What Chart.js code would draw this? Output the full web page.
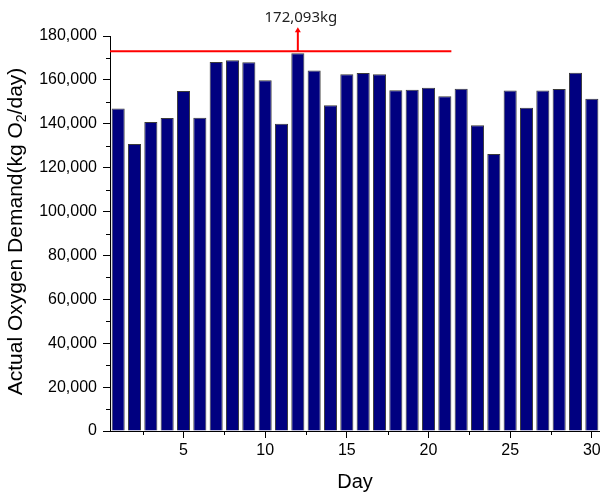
<!DOCTYPE html>
<html>
<head>
<meta charset="utf-8">
<script src="https://cdn.jsdelivr.net/npm/chart.js@4/dist/chart.umd.min.js"></script>
<style>
  html, body { margin: 0; padding: 0; background: #fff; overflow: hidden; }
  #wrap { width: 600px; height: 495px; }
</style>
</head>
<body>
<div id="wrap"><canvas id="chart" width="600" height="495"></canvas></div>
<script>
// Daily actual oxygen demand (kg O2/day)
const days = [1, 2, 3, 4, 5, 6, 7, 8, 9, 10, 11, 12, 13, 14, 15,
              16, 17, 18, 19, 20, 21, 22, 23, 24, 25, 26, 27, 28, 29, 30];
const demand = [147000, 130800, 140800, 142600, 154900, 142800, 168100, 169000, 168000, 159800,
                140000, 172093, 164300, 148500, 162600, 163100, 162600, 155300, 155500, 156400,
                152600, 156000, 139300, 126200, 155200, 147300, 155200, 155800, 163300, 151400];

// Peak marker: horizontal red line, arrow over the peak day and its label
const peakLineX = [0.5, 21.4];
const peakLineY = 173000;
const peakDay = 12;
const peakArrowTop = 184000;
const peakLabel = '172,093kg';

// Axes
const xRange = [0.5, 30.5];
const xMajorTicks = [5, 10, 15, 20, 25, 30];
const xMinorTicks = [2.5, 7.5, 12.5, 17.5, 22.5, 27.5];
const yRange = [0, 180000];
const yMajorTicks = [0, 20000, 40000, 60000, 80000, 100000, 120000, 140000, 160000, 180000];
const yMinorTicks = [10000, 30000, 50000, 70000, 90000, 110000, 130000, 150000, 170000];

const sansFamily = "'Liberation Sans', Arial, Helvetica, sans-serif";
const tickFont = { family: sansFamily, size: 16 };

// Minor tick marks (Chart.js has no minor ticks)
const minorTicks = {
  id: 'minorTicks',
  afterDraw(chart) {
    const { ctx, scales: { x, y }, chartArea } = chart;
    ctx.save();
    ctx.strokeStyle = '#000';
    ctx.lineWidth = 1;
    ctx.beginPath();
    xMinorTicks.forEach(v => {
      const px = Math.round(x.getPixelForValue(v)) + 0.5;
      ctx.moveTo(px, chartArea.bottom);
      ctx.lineTo(px, chartArea.bottom + 4);
    });
    yMinorTicks.forEach(v => {
      const py = Math.round(y.getPixelForValue(v)) + 0.5;
      ctx.moveTo(chartArea.left, py);
      ctx.lineTo(chartArea.left - 4, py);
    });
    ctx.stroke();
    ctx.restore();
  }
};

// Arrow and label over the peak bar
const peakArrow = {
  id: 'peakArrow',
  afterDatasetsDraw(chart) {
    const { ctx, scales: { x, y } } = chart;
    const px = x.getPixelForValue(peakDay);
    const yBase = y.getPixelForValue(peakLineY);
    const yTip = y.getPixelForValue(peakArrowTop);
    ctx.save();
    ctx.strokeStyle = '#ff0000';
    ctx.fillStyle = '#ff0000';
    ctx.lineWidth = 2;
    ctx.beginPath();
    ctx.moveTo(px, yBase);
    ctx.lineTo(px, yTip + 4);
    ctx.stroke();
    ctx.beginPath();
    ctx.moveTo(px, yTip);
    ctx.lineTo(px - 3, yTip + 5);
    ctx.lineTo(px + 3, yTip + 5);
    ctx.closePath();
    ctx.fill();
    ctx.fillStyle = '#222';
    ctx.font = "15px 'Noto Sans', sans-serif";
    ctx.textAlign = 'center';
    ctx.textBaseline = 'alphabetic';
    ctx.fillText(peakLabel, px + 3, yTip - 5);
    ctx.restore();
  }
};

// Y title with subscript 2
const yTitle = {
  id: 'yTitle',
  afterDraw(chart) {
    const { ctx, chartArea } = chart;
    const parts = [
      { t: 'Actual Oxygen Demand(kg O', size: 21, dy: 0 },
      { t: '2', size: 14, dy: 4 },
      { t: '/day)', size: 21, dy: 0 }
    ];
    ctx.save();
    ctx.fillStyle = '#000';
    ctx.textBaseline = 'alphabetic';
    ctx.textAlign = 'left';
    let total = 0;
    parts.forEach(p => {
      ctx.font = p.size + 'px ' + sansFamily;
      p.w = ctx.measureText(p.t).width;
      total += p.w;
    });
    ctx.translate(22, (chartArea.top + chartArea.bottom) / 2 - 2);
    ctx.rotate(-Math.PI / 2);
    let cx = -total / 2;
    parts.forEach(p => {
      ctx.font = p.size + 'px ' + sansFamily;
      ctx.fillText(p.t, cx, p.dy);
      cx += p.w;
    });
    ctx.restore();
  }
};

new Chart(document.getElementById('chart'), {
  type: 'bar',
  data: {
    datasets: [
      {
        type: 'line',
        data: peakLineX.map(v => ({ x: v, y: peakLineY })),
        borderColor: '#ff0000',
        borderWidth: 2,
        pointRadius: 0,
        fill: false,
      },
      {
        type: 'bar',
        data: days.map((d, i) => ({ x: d, y: demand[i] })),
        backgroundColor: '#000080',
        borderColor: '#3a3a3a',
        borderWidth: 1,
        barPercentage: 0.8,
        categoryPercentage: 1.0,
      }
    ]
  },
  options: {
    responsive: false,
    animation: false,
    layout: { padding: { top: 36, left: 0, right: 0, bottom: 0 } },
    plugins: {
      legend: { display: false },
      tooltip: { enabled: false },
    },
    scales: {
      x: {
        type: 'linear',
        min: xRange[0],
        max: xRange[1],
        offset: false,
        afterBuildTicks: (scale) => { scale.ticks = xMajorTicks.map(v => ({ value: v })); },
        afterFit: (scale) => { scale.height = 64; scale.paddingLeft = 0; scale.paddingRight = 0; },
        ticks: { color: '#000', font: tickFont, padding: 3, maxRotation: 0, autoSkip: false },
        grid: { offset: false, drawOnChartArea: false, drawTicks: true, tickLength: 7, color: '#000' },
        border: { display: true, color: '#000', width: 1 },
        title: {
          display: true,
          text: 'Day',
          color: '#000',
          font: { family: sansFamily, size: 20 },
          padding: { top: 0, bottom: 1 }
        }
      },
      y: {
        min: yRange[0],
        max: yRange[1],
        afterBuildTicks: (scale) => { scale.ticks = yMajorTicks.map(v => ({ value: v })); },
        afterFit: (scale) => { scale.width = 110; scale.paddingTop = 0; scale.paddingBottom = 0; },
        ticks: {
          color: '#000',
          font: tickFont,
          padding: 6,
          callback: (v) => v.toLocaleString('en-US')
        },
        grid: { drawOnChartArea: false, drawTicks: true, tickLength: 7, color: '#000' },
        border: { display: true, color: '#000', width: 1 }
      }
    }
  },
  plugins: [minorTicks, peakArrow, yTitle]
});
</script>
</body>
</html>
